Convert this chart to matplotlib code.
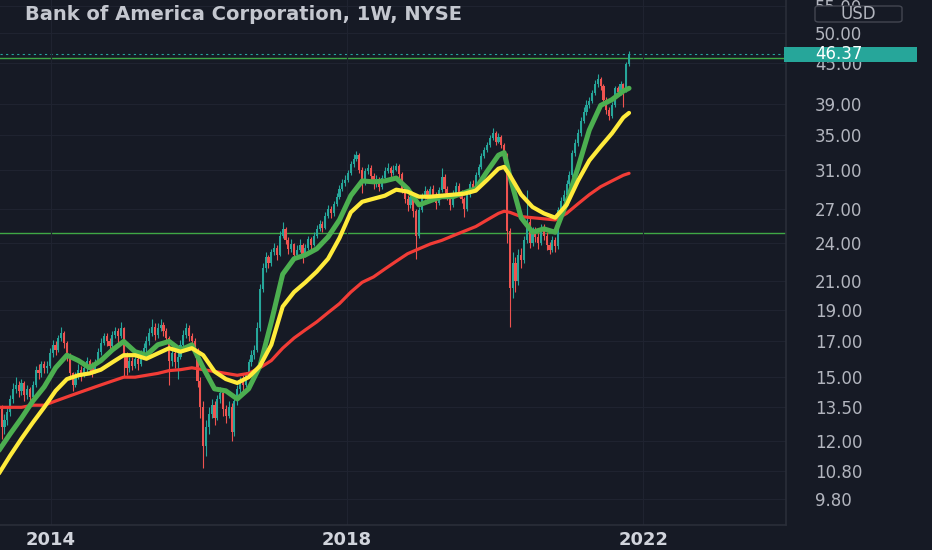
import numpy as np
import pandas as pd
import matplotlib
matplotlib.use("Agg")
import matplotlib.pyplot as plt
import matplotlib.dates as mdates
from matplotlib.patches import Rectangle, FancyBboxPatch
from matplotlib.ticker import FixedLocator, NullLocator

# ── Datos (velas de 2 semanas) ────────────────────────────
titulo = "Bank of America Corporation, 1W, NYSE"
inicio = "2013-04-19"
apertura_0 = 13.8

cierres = [
    13.4, 12.6, 12.9, 13.3, 13.9, 14.4, 14.6, 14.3, 14.7, 14.1,
    14.4, 14.0, 14.6, 15.4, 15.2, 15.7, 15.5, 15.6, 16.3, 16.8,
    16.5, 17.2, 17.5, 16.9, 16.2, 15.2, 14.6, 15.0, 15.4, 15.1,
    15.5, 15.9, 15.6, 15.3, 15.8, 16.4, 16.9, 17.3, 17.0, 16.7,
    17.4, 17.6, 17.3, 17.8, 16.2, 15.5, 15.9, 15.6, 16.0, 15.7,
    16.3, 16.6, 17.0, 17.5, 17.9, 17.4, 17.8, 18.0, 17.6, 17.2,
    15.9, 16.3, 15.8, 16.1, 16.8, 17.4, 17.8, 17.3, 17.0, 16.5,
    14.8, 13.5, 11.8, 12.6, 13.2, 13.6, 13.0, 13.9, 14.2, 13.4,
    13.1, 13.5, 12.4, 13.8, 14.4, 14.8, 14.6, 15.1, 15.8, 16.2,
    16.5, 17.8, 20.4, 22.0, 22.8, 22.4, 23.2, 23.6, 23.0, 24.6,
    25.2, 24.2, 23.5, 23.9, 23.0, 23.4, 23.8, 23.0, 23.6, 24.3,
    23.8, 24.6, 25.2, 25.6, 25.3, 26.4, 27.0, 26.6, 27.5, 28.2,
    29.0, 29.6, 29.9, 30.6, 31.6, 32.2, 32.6, 31.0, 29.6, 30.8,
    31.2, 30.3, 29.5, 30.0, 29.2, 30.1, 30.9, 31.2, 30.6, 31.0,
    31.4, 30.5, 29.0, 28.0, 27.4, 28.2, 26.8, 24.6, 26.9, 28.3,
    28.8, 28.0, 29.0, 28.4, 27.6, 28.9, 30.2, 29.0, 28.2, 27.4,
    28.6, 29.3, 28.6, 28.0, 27.0, 28.4, 29.5, 29.0, 30.4, 31.3,
    32.5, 33.2, 33.8, 34.6, 35.2, 34.2, 34.8, 33.8, 32.6, 25.0,
    20.5, 22.4, 21.0, 23.0, 22.6, 24.2, 25.8, 24.0, 25.0, 24.5,
    24.0, 25.3, 24.6, 23.8, 23.4, 24.2, 23.7, 26.9, 27.8, 28.4,
    29.5, 30.4, 32.8, 34.0, 35.2, 36.8, 37.9, 38.8, 39.4, 40.5,
    41.8, 42.6, 41.6, 39.6, 38.2, 37.4, 38.8, 41.2, 40.6, 41.8,
    40.9, 44.8, 46.37,
]
maximos = [
    14.0, 13.6, 13.2, 13.5, 14.1, 14.7, 15.0, 14.8, 14.9, 14.8,
    14.6, 14.5, 14.8, 15.6, 15.7, 15.9, 15.9, 15.9, 16.6, 17.1,
    17.0, 17.4, 17.9, 17.6, 17.0, 16.3, 15.3, 15.3, 15.7, 15.6,
    15.7, 16.1, 16.0, 15.8, 16.0, 16.6, 17.2, 17.5, 17.5, 17.2,
    17.6, 17.9, 17.8, 18.2, 17.9, 16.4, 16.1, 16.1, 16.2, 16.2,
    16.5, 16.9, 17.3, 17.8, 18.4, 18.1, 18.1, 18.4, 18.2, 17.8,
    17.3, 16.6, 16.5, 16.4, 17.1, 17.7, 18.1, 18.0, 17.5, 17.2,
    16.6, 15.0, 13.8, 12.9, 13.5, 13.9, 13.8, 14.1, 14.5, 14.3,
    13.6, 13.8, 13.7, 13.9, 14.6, 15.0, 15.1, 15.3, 16.0, 16.5,
    16.8, 18.2, 20.8, 22.4, 23.2, 23.0, 23.5, 24.0, 23.8, 25.0,
    25.8, 25.4, 24.5, 24.3, 24.0, 23.8, 24.3, 24.0, 23.9, 24.6,
    24.5, 24.9, 25.5, 26.0, 25.9, 26.7, 27.4, 27.3, 27.8, 28.6,
    29.4, 30.0, 30.4, 31.0, 32.0, 32.7, 33.1, 32.8, 31.3, 31.2,
    31.6, 31.5, 30.6, 30.4, 30.2, 30.4, 31.3, 31.7, 31.4, 31.5,
    31.7, 31.6, 30.7, 29.3, 28.4, 28.6, 28.4, 27.0, 27.2, 28.6,
    29.3, 29.0, 29.3, 29.4, 28.7, 29.2, 31.2, 30.5, 29.3, 28.5,
    28.9, 29.7, 29.6, 28.9, 28.2, 28.7, 29.8, 29.9, 30.7, 31.6,
    32.8, 33.6, 34.2, 35.0, 35.9, 35.5, 35.2, 35.0, 34.0, 32.8,
    25.3, 23.2, 22.8, 23.5, 23.6, 24.6, 28.9, 26.2, 25.4, 25.4,
    24.8, 25.6, 25.6, 24.9, 24.1, 24.6, 24.5, 27.2, 28.2, 28.9,
    29.9, 30.8, 33.2, 34.5, 35.7, 37.3, 38.6, 39.5, 39.9, 41.0,
    42.4, 43.3, 42.9, 41.8, 39.9, 38.6, 39.2, 41.6, 41.6, 42.3,
    42.0, 45.2, 46.9,
]
minimos = [
    13.1, 12.1, 12.3, 12.7, 13.1, 13.7, 14.2, 14.0, 14.1, 13.8,
    13.9, 13.6, 13.9, 14.5, 14.9, 15.0, 15.2, 15.2, 15.5, 16.1,
    16.2, 16.4, 17.0, 16.6, 15.9, 14.9, 14.3, 14.5, 14.9, 14.8,
    15.0, 15.3, 15.3, 15.0, 15.2, 15.7, 16.2, 16.8, 16.7, 16.3,
    16.5, 17.2, 16.9, 17.2, 15.0, 15.1, 15.3, 15.4, 15.5, 15.4,
    15.6, 16.1, 16.4, 16.8, 17.3, 17.1, 17.2, 17.6, 17.3, 16.9,
    14.6, 15.6, 15.5, 14.9, 16.0, 16.7, 17.2, 17.0, 16.6, 16.1,
    14.5, 13.0, 10.9, 11.4, 12.3, 13.0, 12.7, 12.9, 13.7, 13.1,
    12.8, 13.0, 12.0, 12.2, 13.6, 14.2, 14.3, 14.5, 15.0, 15.6,
    16.0, 16.4, 17.6, 20.2, 21.7, 22.0, 22.1, 23.0, 22.6, 22.9,
    24.4, 23.9, 23.1, 23.2, 22.6, 22.8, 23.2, 22.4, 22.8, 23.4,
    23.5, 23.7, 24.4, 25.0, 24.9, 25.2, 26.2, 26.2, 26.4, 27.3,
    28.0, 28.8, 29.3, 29.7, 30.4, 31.3, 31.9, 30.6, 28.6, 29.4,
    30.5, 29.9, 29.0, 29.2, 28.8, 29.0, 29.9, 30.6, 30.2, 30.4,
    30.8, 30.1, 28.6, 27.6, 26.8, 27.1, 26.3, 22.7, 24.4, 26.7,
    28.0, 27.6, 27.8, 28.0, 27.0, 27.4, 28.7, 28.6, 27.9, 26.9,
    27.2, 28.4, 28.2, 27.6, 26.3, 26.8, 28.2, 28.7, 28.9, 30.2,
    31.1, 32.3, 33.0, 33.6, 34.4, 33.8, 34.0, 33.4, 32.0, 24.0,
    17.9, 19.8, 20.2, 20.7, 22.0, 22.4, 24.0, 23.6, 23.7, 24.1,
    23.5, 23.8, 24.2, 23.4, 23.1, 23.2, 23.2, 23.5, 26.6, 27.5,
    28.2, 29.3, 30.2, 32.5, 33.7, 34.9, 36.5, 37.5, 38.4, 39.1,
    40.2, 41.4, 41.0, 39.0, 37.6, 36.9, 37.1, 38.6, 40.1, 40.3,
    38.6, 40.6, 44.5,
]

# medias móviles, muestreadas en algunas velas
idx_medias = list(range(0, 177, 4)) + [178] + list(range(180, 221, 4)) + [222]
media_verde = [
    11.6, 12.3, 13.0, 13.8, 14.5, 15.5, 16.2, 15.9, 15.5, 15.9,
    16.5, 17.0, 16.4, 16.2, 16.8, 17.0, 16.5, 16.8, 15.5, 14.4,
    14.3, 13.9, 14.4, 15.6, 18.2, 21.5, 22.7, 23.0, 23.5, 24.5,
    26.0, 28.3, 29.8, 29.7, 29.8, 30.1, 29.0, 27.4, 27.8, 28.2,
    28.2, 28.6, 29.0, 30.8, 32.6,
    32.9,
    30.3, 26.2, 24.9, 25.2, 24.9, 27.6, 31.2, 35.6, 38.8, 39.6, 40.8,
    41.2,
]
media_amarilla = [
    10.7, 11.4, 12.1, 12.8, 13.5, 14.3, 14.9, 15.1, 15.2, 15.4,
    15.8, 16.2, 16.2, 16.0, 16.3, 16.6, 16.4, 16.6, 16.2, 15.3,
    14.9, 14.7, 15.0, 15.6, 16.8, 19.2, 20.2, 20.9, 21.7, 22.7,
    24.4, 26.7, 27.7, 28.0, 28.3, 28.9, 28.7, 28.2, 28.2, 28.3,
    28.4, 28.5, 28.8, 29.9, 31.1,
    31.3,
    30.4, 28.4, 27.2, 26.6, 26.2, 27.4, 29.8, 32.0, 33.6, 35.2, 37.2,
    37.8,
]
media_roja = [
    13.5, 13.5, 13.5, 13.6, 13.6, 13.8, 14.0, 14.2, 14.4, 14.6,
    14.8, 15.0, 15.0, 15.1, 15.2, 15.35, 15.4, 15.5, 15.4, 15.3,
    15.2, 15.1, 15.2, 15.5, 15.9, 16.6, 17.2, 17.7, 18.2, 18.8,
    19.4, 20.2, 20.9, 21.3, 21.9, 22.5, 23.1, 23.5, 23.9, 24.2,
    24.6, 25.0, 25.4, 26.0, 26.6,
    26.8,
    26.7, 26.3, 26.2, 26.1, 26.0, 26.6, 27.5, 28.4, 29.2, 29.8, 30.4,
    30.6,
]

niveles = [45.8, 24.85]
ticks_y = [9.8, 10.8, 12, 13.5, 15, 17, 19, 21, 24, 27, 31, 35, 39, 45, 50, 55]
anios = [2014, 2018, 2022]

# ── Colores ───────────────────────────────────────────────
COLOR_BG    = "#161a25"
COLOR_GRID  = "#1f2330"
COLOR_BORDE = "#2a2e39"
COLOR_TEXT  = "#b2b5be"
COLOR_SUBE  = "#26a69a"
COLOR_BAJA  = "#ef5350"
COLOR_VERDE = "#4caf50"
COLOR_AMAR  = "#ffeb3b"
COLOR_ROJA  = "#f23c36"

W, H = 932, 550
fig = plt.figure(figsize=(W / 100, H / 100), dpi=100)
fig.patch.set_facecolor(COLOR_BG)
ax = fig.add_axes([0, 25 / H, 786 / W, 525 / H])
ax.set_facecolor(COLOR_BG)

fechas = pd.date_range(inicio, periods=len(cierres), freq="14D")
xs = mdates.date2num(fechas.to_pydatetime())
aperturas = [apertura_0] + cierres[:-1]

# ── Velas ─────────────────────────────────────────────────
colores = [COLOR_SUBE if c >= o else COLOR_BAJA for o, c in zip(aperturas, cierres)]
bases = [min(o, c) for o, c in zip(aperturas, cierres)]
alturas = [max(abs(c - o), 0.03) for o, c in zip(aperturas, cierres)]
ax.vlines(xs, minimos, maximos, colors=colores, linewidth=0.8, zorder=2)
ax.bar(xs, alturas, bottom=bases, width=10.5, color=colores, linewidth=0, zorder=2)

# ── Medias móviles ────────────────────────────────────────
xm = xs[idx_medias]
ax.plot(xm, media_roja, color=COLOR_ROJA, lw=2.3, solid_capstyle="round", zorder=3)
ax.plot(xm, media_verde, color=COLOR_VERDE, lw=3.6, solid_capstyle="round", zorder=4)
ax.plot(xm, media_amarilla, color=COLOR_AMAR, lw=3.0, solid_capstyle="round", zorder=5)

# ── Líneas horizontales ───────────────────────────────────
for n in niveles:
    ax.axhline(n, color="#3fa845", lw=1.0, zorder=1.5)
ax.axhline(cierres[-1], color=COLOR_SUBE, lw=0.8, ls=(0, (2, 3)), zorder=1)

# ── Ejes ──────────────────────────────────────────────────
ax.set_yscale("log")
ax.set_ylim(8.945, 56.1)
ax.set_xlim(mdates.date2num(pd.Timestamp("2013-04-25")),
            mdates.date2num(pd.Timestamp("2023-12-05")))

ax.yaxis.tick_right()
ax.yaxis.set_major_locator(FixedLocator(ticks_y))
ax.yaxis.set_minor_locator(NullLocator())
ax.set_yticklabels([f"{v:.2f}" for v in ticks_y])
ax.tick_params(axis="y", length=0, pad=21, labelsize=12, labelcolor=COLOR_TEXT)

pos_anios = [mdates.date2num(pd.Timestamp(f"{a}-01-01")) for a in anios]
ax.xaxis.set_major_locator(FixedLocator(pos_anios))
ax.xaxis.set_minor_locator(NullLocator())
ax.set_xticklabels([str(a) for a in anios], fontweight="bold")
ax.tick_params(axis="x", length=0, pad=4, labelsize=13, labelcolor="#d1d4dc")

ax.grid(True, color=COLOR_GRID, lw=0.8, zorder=0)
for lado in ("top", "left"):
    ax.spines[lado].set_visible(False)
for lado in ("right", "bottom"):
    ax.spines[lado].set_color(COLOR_BORDE)
    ax.spines[lado].set_linewidth(1.2)

# ── Título ────────────────────────────────────────────────
fig.text(25 / W, 1 - 15 / H, titulo, fontsize=14, fontweight="bold",
         color="#c4c7cf", ha="left", va="center")

# ── Etiqueta de precio y caja USD ─────────────────────────
y_px = ax.transData.transform((xs[-1], cierres[-1]))[1]
fig.add_artist(Rectangle((784 / W, (y_px - 7.5) / H), 133 / W, 15 / H,
                         transform=fig.transFigure, facecolor=COLOR_SUBE,
                         edgecolor="none", zorder=5))
fig.text(815 / W, y_px / H, f"{cierres[-1]:.2f}", fontsize=12, color="white",
         ha="left", va="center", zorder=6)

fig.add_artist(FancyBboxPatch((815 / W, 1 - 22 / H), 87 / W, 16 / H,
                              boxstyle="round,pad=0,rounding_size=0.004",
                              transform=fig.transFigure, facecolor=COLOR_BG,
                              edgecolor="#434651", lw=1, zorder=5))
fig.text(858 / W, 1 - 14 / H, "USD", fontsize=12, color=COLOR_TEXT,
         ha="center", va="center", zorder=6)

plt.savefig("out.png", dpi=100, facecolor=COLOR_BG)
